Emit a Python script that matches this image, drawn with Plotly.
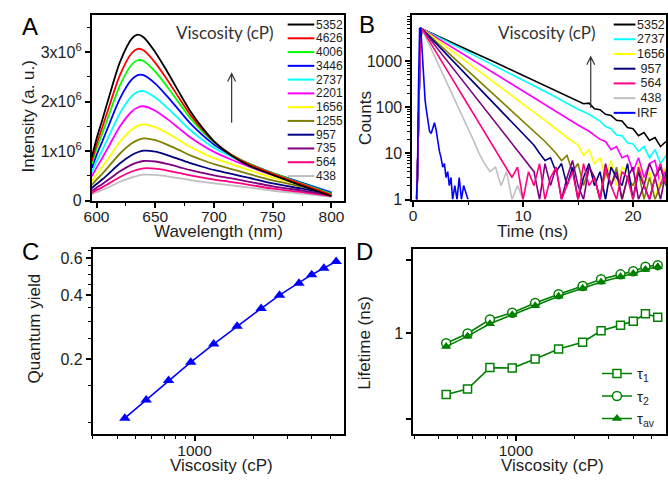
import plotly.graph_objects as go

W, H = 668, 484
def px(x): return x / W
def py(y): return 1 - y / H

FONT = 'Liberation Sans, Arial, sans-serif'
TXT = '#1e1e1e'

# ---------------- Panel A: emission spectra (intensity in 1e6 a.u.) ----------------
wavelength_nm = [596, 600, 605, 610, 620, 630, 635, 640, 650, 660, 670, 680, 690, 700, 715, 730, 750, 775, 800]
viscosity_A = [5352, 4626, 4006, 3446, 2737, 2201, 1656, 1255, 957, 735, 564, 438]
colors_A = ['#000000', '#FF0000', '#00FF00', '#0000FF', '#00FFFF', '#FF00FF',
            '#FFFF00', '#808000', '#000080', '#800080', '#FF0080', '#C0C0C0']
I_5352 = [0.881, 1.25, 1.641, 2.043, 2.801, 3.27, 3.35, 3.3, 2.998, 2.613, 2.201, 1.799, 1.474, 1.199, 0.905, 0.704, 0.519, 0.301, 0.09]
I_4626 = [0.805, 1.133, 1.486, 1.849, 2.541, 2.981, 3.065, 3.035, 2.783, 2.447, 2.083, 1.727, 1.438, 1.192, 0.924, 0.732, 0.544, 0.33, 0.119]
I_4006 = [0.743, 1.040, 1.362, 1.695, 2.333, 2.749, 2.835, 2.820, 2.604, 2.305, 1.980, 1.659, 1.398, 1.174, 0.929, 0.745, 0.555, 0.347, 0.138]
I_3446 = [0.663, 0.921, 1.203, 1.497, 2.066, 2.447, 2.535, 2.535, 2.364, 2.111, 1.833, 1.556, 1.330, 1.135, 0.918, 0.746, 0.558, 0.359, 0.157]
I_2737 = [0.573, 0.789, 1.027, 1.278, 1.770, 2.110, 2.196, 2.211, 2.084, 1.879, 1.651, 1.421, 1.232, 1.068, 0.883, 0.726, 0.546, 0.360, 0.169]
I_2201 = [0.490, 0.668, 0.868, 1.080, 1.501, 1.800, 1.881, 1.906, 1.815, 1.651, 1.465, 1.277, 1.121, 0.985, 0.827, 0.687, 0.518, 0.349, 0.172]
I_1656 = [0.392, 0.529, 0.685, 0.853, 1.189, 1.437, 1.51, 1.542, 1.485, 1.365, 1.226, 1.083, 0.964, 0.858, 0.733, 0.615, 0.465, 0.319, 0.164]
I_1255 = [0.317, 0.424, 0.547, 0.681, 0.953, 1.159, 1.223, 1.256, 1.221, 1.131, 1.025, 0.914, 0.821, 0.738, 0.638, 0.538, 0.408, 0.283, 0.15]
I_957 = [0.253, 0.336, 0.432, 0.538, 0.755, 0.923, 0.978, 1.009, 0.989, 0.922, 0.841, 0.757, 0.685, 0.62, 0.541, 0.459, 0.348, 0.243, 0.131]
I_735 = [0.2, 0.263, 0.339, 0.421, 0.593, 0.728, 0.774, 0.801, 0.791, 0.741, 0.68, 0.616, 0.561, 0.51, 0.449, 0.382, 0.29, 0.204, 0.112]
I_564 = [0.162, 0.213, 0.273, 0.34, 0.479, 0.59, 0.629, 0.653, 0.647, 0.609, 0.561, 0.511, 0.467, 0.426, 0.377, 0.321, 0.244, 0.173, 0.095]
I_438 = [0.13, 0.17, 0.217, 0.27, 0.382, 0.472, 0.503, 0.525, 0.522, 0.493, 0.456, 0.416, 0.382, 0.35, 0.31, 0.265, 0.201, 0.143, 0.08]
spectra = [I_5352, I_4626, I_4006, I_3446, I_2737, I_2201, I_1656, I_1255, I_957, I_735, I_564, I_438]
intensity_ticks = [0, 1, 2, 3]
intensity_ticktext = ['0', '1x10<sup>6</sup>', '2x10<sup>6</sup>', '3x10<sup>6</sup>']

# ---------------- Panel B: fluorescence decays ----------------
t_5352 = [0.35, 0.5, 0.65, 0.8, 2.5, 5, 7.5, 10, 12.5, 15, 15.5, 16, 16.5, 17, 17.5, 18, 18.5, 19, 19.5, 20, 20.5, 21, 21.5, 22, 22.5, 23]
c_5352 = [1, 60, 2000, 5000, 3200, 1720, 920, 490, 260, 135, 118, 122, 92, 88, 70, 66, 52, 50, 36, 34, 24, 28, 19, 22, 14, 18]
t_2737 = [0.35, 0.5, 0.65, 0.8, 2.5, 5, 7.5, 10, 12.5, 15, 16, 17, 17.5, 18, 18.5, 19, 19.5, 20, 20.5, 21, 21.5, 22, 22.5, 23]
c_2737 = [1, 60, 2000, 5000, 3100, 1550, 770, 385, 190, 90, 70, 50, 38, 34, 25, 24, 17, 16, 11, 14, 8, 12, 6, 9]
t_2201 = [0.35, 0.5, 0.65, 0.8, 2.5, 5, 7.5, 10, 12.5, 15, 16, 17, 17.5, 18, 18.5, 19, 19.5, 20, 20.5, 21, 21.5, 22, 22.5, 23]
c_2201 = [1, 60, 2000, 5000, 2800, 1210, 520, 225, 96, 41, 30, 20, 18, 12, 14, 8, 9, 4, 8, 3, 6, 7, 2, 5]
t_1656 = [0.35, 0.5, 0.65, 0.8, 2.5, 5, 7.5, 10, 12.5, 14, 15, 15.5, 16, 16.5, 17, 17.5, 18, 18.5, 19, 19.5, 20, 20.5, 21, 21.5, 22, 22.5, 23]
c_1656 = [1, 60, 2000, 5000, 2500, 910, 330, 117, 42, 22, 15, 9, 12, 6, 8, 3, 7, 2, 5, 4, 1, 6, 2, 4, 1, 3, 5]
t_1255 = [0.35, 0.5, 0.65, 0.8, 2, 4, 6, 8, 10, 12, 13, 13.5, 14, 14.5, 15, 15.5, 16, 16.5, 17, 17.5, 18, 18.5, 19, 19.5, 20, 20.5, 21, 21.5, 22, 22.5, 23]
c_1255 = [1, 60, 2000, 5000, 2740, 1000, 370, 135, 49, 18, 10, 7, 9, 4, 6, 2, 5, 3, 1, 4, 2, 5, 1, 3, 2, 4, 1, 3, 1, 2, 3]
t_957 = [0.35, 0.5, 0.65, 0.8, 2, 4, 6, 8, 10, 11, 11.5, 12, 12.5, 13, 13.5, 14, 14.5, 15, 15.5, 16, 16.5, 17, 17.5, 18, 18.5, 19, 19.5, 20, 20.5, 21, 21.5, 22, 22.5, 23]
c_957 = [1, 60, 2000, 5000, 2540, 810, 260, 85, 27, 15, 10, 7, 8, 4, 6, 2, 5, 1, 3, 6, 2, 4, 1, 5, 3, 2, 6, 1, 4, 2, 1, 3, 5, 2]
t_735 = [0.35, 0.5, 0.65, 0.8, 2, 3.5, 5, 6.5, 8, 9.5, 10, 10.5, 11, 11.5, 12, 12.5, 13, 13.5, 14, 14.5, 15, 15.5, 16, 16.5, 17, 17.5, 18, 18.5, 19, 19.5, 20, 20.5, 21, 21.5, 22, 22.5, 23]
c_735 = [1, 60, 2000, 5000, 2160, 750, 265, 93, 32, 11.5, 8, 5.6, 4, 1, 6, 2, 5, 1, 3, 7, 2, 1, 5, 3, 1, 6, 2, 4, 1, 3, 5, 1, 2, 6, 3, 1, 4]
t_564 = [0.35, 0.5, 0.65, 0.8, 1.5, 2.5, 3.5, 4.5, 5.5, 6.5, 7.5, 8, 8.5, 9, 9.5, 10, 10.5, 11, 11.5, 12, 12.5, 13, 13.5, 14, 14.5, 15, 15.5, 16, 16.5, 17, 17.5, 18, 18.5, 19, 19.5, 20, 20.5, 21, 21.5, 22, 22.5, 23]
c_564 = [1, 60, 2000, 5000, 2650, 1070, 430, 170, 70, 28, 11, 7, 4.6, 3, 5, 1, 4, 2, 6, 1, 3, 5, 1, 2, 4, 1, 6, 2, 3, 1, 5, 2, 1, 4, 3, 1, 5, 2, 1, 3, 6, 2]
t_438 = [0.35, 0.5, 0.65, 0.8, 1.5, 2.5, 3.5, 4.5, 5.5, 6, 6.5, 7, 7.5, 8, 8.5, 9, 9.5, 10]
c_438 = [1, 60, 2000, 5000, 2200, 660, 200, 62, 19, 10, 6, 4, 5, 2, 4, 1, 2, 1]
t_irf = [0.3, 0.4, 0.5, 0.6, 0.7, 0.8, 0.9, 1.0, 1.1, 1.2, 1.35, 1.5, 1.65, 1.8, 1.95, 2.1, 2.25, 2.4, 2.55, 2.7, 2.85, 3.0, 3.15, 3.3, 3.45, 3.6, 3.8, 4.0, 4.2, 4.4, 4.6, 5.0]
c_irf = [1, 3, 300, 5000, 5300, 1800, 600, 250, 140, 90, 50, 30, 27, 38, 46, 32, 18, 11, 8, 5, 6, 3, 4, 2, 3, 1, 2, 1, 3, 1, 2, 1]
decays = [  # (label, colour, t, counts)
    ('5352', '#000000', t_5352, c_5352),
    ('2737', '#00FFFF', t_2737, c_2737),
    ('2201', '#FF00FF', t_2201, c_2201),
    ('1656', '#FFFF00', t_1656, c_1656),
    ('1255', '#808000', t_1255, c_1255),
    ('957', '#000080', t_957, c_957),
    ('735', '#800080', t_735, c_735),
    ('438', '#C0C0C0', t_438, c_438),
    ('564', '#FF0080', t_564, c_564),
    ('IRF', '#0000FF', t_irf, c_irf),
]
legend_B = ['5352', '2737', '1656', '957', '564', '438', 'IRF']

# ---------------- Panels C and D ----------------
viscosity = [438, 564, 735, 957, 1255, 1656, 2201, 2737, 3446, 4006, 4626, 5352]
quantum_yield = [0.105, 0.128, 0.158, 0.193, 0.235, 0.285, 0.346, 0.40, 0.456, 0.50, 0.537, 0.577]
tau1 = [0.316, 0.35, 0.525, 0.52, 0.617, 0.747, 0.846, 1.05, 1.17, 1.26, 1.45, 1.36]
tau2 = [0.83, 1.0, 1.30, 1.48, 1.78, 2.10, 2.45, 2.78, 3.05, 3.24, 3.52, 3.63]
tau_av = [0.78, 0.95, 1.20, 1.42, 1.69, 2.02, 2.35, 2.64, 2.92, 3.10, 3.34, 3.52]

fig = go.Figure()

# A
for v, c, ys in reversed(list(zip(viscosity_A, colors_A, spectra))):
    fig.add_trace(go.Scatter(x=wavelength_nm, y=ys, mode='lines', name=str(v),
                             line=dict(color=c, width=1.8, shape='spline', smoothing=0.8),
                             showlegend=False, xaxis='x', yaxis='y'))
# B
for lab, c, t, cnt in decays:
    fig.add_trace(go.Scatter(x=t, y=cnt, mode='lines', name=lab, line=dict(color=c, width=1.6),
                             showlegend=False, xaxis='x2', yaxis='y2'))
# C
fig.add_trace(go.Scatter(x=viscosity, y=quantum_yield, mode='lines+markers',
                         line=dict(color='#0000FF', width=1.6),
                         marker=dict(symbol='triangle-up', size=10, color='#0000FF'),
                         showlegend=False, xaxis='x3', yaxis='y3'))
# D
G = '#008000'
fig.add_trace(go.Scatter(x=viscosity, y=tau1, mode='lines+markers', name='τ<sub>1</sub>',
                         line=dict(color=G, width=1.6),
                         marker=dict(symbol='square', size=8, color='white', line=dict(color=G, width=1.5)),
                         xaxis='x4', yaxis='y4'))
fig.add_trace(go.Scatter(x=viscosity, y=tau2, mode='lines+markers', name='τ<sub>2</sub>',
                         line=dict(color=G, width=1.6),
                         marker=dict(symbol='circle', size=9, color='white', line=dict(color=G, width=1.5)),
                         xaxis='x4', yaxis='y4'))
fig.add_trace(go.Scatter(x=viscosity, y=tau_av, mode='lines+markers', name='τ<sub>av</sub>',
                         line=dict(color=G, width=1.6),
                         marker=dict(symbol='triangle-up', size=9, color=G),
                         xaxis='x4', yaxis='y4'))

minor = dict(ticks='outside', ticklen=3, tickwidth=1, tickcolor='black', showgrid=False)
def ax(**kw):
    d = dict(showline=True, linewidth=2, linecolor='black', mirror=True, ticks='outside',
             ticklen=5, tickwidth=1.5, tickcolor='black', showgrid=False, zeroline=False,
             tickfont=dict(family=FONT, size=16, color=TXT), fixedrange=True)
    d.update(kw)
    return d

XTF = dict(family=FONT, size=15.5, color=TXT)
fig.update_layout(
    width=W, height=H, margin=dict(l=0, r=0, t=0, b=0),
    paper_bgcolor='white', plot_bgcolor='white',
    font=dict(family=FONT, color=TXT),
    xaxis=ax(domain=[px(85), px(341)], range=[596, 811], tickvals=[600, 650, 700, 750, 800],
             minor=dict(tickvals=[625, 675, 725, 775], **minor), anchor='y', ticklabelstandoff=-4, tickfont=XTF),
    yaxis=ax(domain=[py(204.5), py(15.7)], range=[0, 3.74], tickvals=intensity_ticks,
             ticktext=intensity_ticktext, minor=dict(tickvals=[0.5, 1.5, 2.5, 3.5], **minor), anchor='x'),
    xaxis2=ax(domain=[px(410), px(667)], range=[-0.05, 23], tickvals=[0, 10, 20],
              minor=dict(tickvals=[5, 15], **minor), anchor='y2', ticklabelstandoff=-4, tickfont=XTF),
    yaxis2=ax(domain=[py(203.3), py(15)], type='log', range=[0, 4], tickvals=[1, 10, 100, 1000],
              minor=dict(tickvals=[2, 3, 4, 5, 6, 7, 8, 9, 20, 30, 40, 50, 60, 70, 80, 90,
                                   200, 300, 400, 500, 600, 700, 800, 900, 2000, 3000, 4000, 5000, 6000, 7000, 8000, 9000],
                         **minor), anchor='x2'),
    xaxis3=ax(domain=[px(86), px(341)], type='log', range=[2.477, 3.771], tickvals=[1000], ticktext=['1000'],
              minor=dict(tickvals=[300, 400, 500, 600, 700, 800, 900, 2000, 3000, 4000, 5000], **minor),
              anchor='y3', ticklabelstandoff=-4, tickfont=XTF),
    yaxis3=ax(domain=[py(442.3), py(254)], type='log', range=[-1.054, -0.181], tickvals=[0.2, 0.4, 0.6],
              ticktext=['0.2', '0.4', '0.6'],
              minor=dict(tickvals=[0.1, 0.15, 0.25, 0.3, 0.35, 0.45, 0.5, 0.55, 0.65], **minor), anchor='x3'),
    xaxis4=ax(domain=[px(411), px(667)], type='log', range=[2.4735, 3.771], tickvals=[1000], ticktext=['1000'],
              minor=dict(tickvals=[300, 400, 500, 600, 700, 800, 900, 2000, 3000, 4000, 5000], **minor),
              anchor='y4', ticklabelstandoff=-4, tickfont=XTF),
    yaxis4=ax(domain=[py(442.3), py(254)], type='log', range=[-0.825, 0.69], tickvals=[1],
              ticktext=['1'], minor=dict(tickvals=[0.2, 4], ticks='outside', ticklen=5, tickwidth=1.5,
                                         tickcolor='black', showgrid=False), anchor='x4'),
    showlegend=True,
    legend=dict(x=px(597), y=py(364), xanchor='left', yanchor='top', bgcolor='rgba(0,0,0,0)',
                font=dict(family=FONT, size=15, color=TXT), itemwidth=30, tracegroupgap=0),
)

ann = []
shapes = []
def text(x, y, s, size=17, angle=0, xanchor='center', family=FONT, color=TXT):
    ann.append(dict(x=px(x), y=py(y), xref='paper', yref='paper', text=s, showarrow=False,
                    xanchor=xanchor, yanchor='middle', textangle=angle, borderpad=0,
                    font=dict(family=family, size=size, color=color)))

# panel letters
text(22, 27, 'A', size=24, color='black')
text(364, 25, 'B', size=24, color='black')
text(23, 256, 'C', size=24, color='black')
text(361, 256, 'D', size=24, color='black')
# axis titles
text(213, 236, 'Wavelength (nm)')
text(21, 119, 'Intensity (a. u.)', angle=-90)
text(532, 236, 'Time (ns)')
text(363, 120, 'Counts', angle=-90)
text(216, 474, 'Viscosity (cP)')
text(27, 335, 'Quantum yield', angle=-90)
text(552, 474, 'Viscosity (cP)')
text(361, 349, 'Lifetime (ns)', angle=-90)
# in-plot labels
text(220, 33, 'Viscosity (cP)', size=17, family='Lato, Open Sans, sans-serif', color='#333')
text(546, 33, 'Viscosity (cP)', size=17, family='Lato, Open Sans, sans-serif', color='#333')

def arrow(x, y0, y1):
    shapes.append(dict(type='path', xref='paper', yref='paper', line=dict(color='#333', width=1.2),
                       path='M %f,%f L %f,%f M %f,%f L %f,%f L %f,%f' % (
                           px(x), py(y0), px(x), py(y1),
                           px(x - 4), py(y1 + 8), px(x), py(y1), px(x + 4), py(y1 + 8))))
arrow(226.7, 125, 75)
arrow(590.7, 110, 58)

# manual legend A
for i, (v, c) in enumerate(zip(viscosity_A, colors_A)):
    y = 25 + 14.03 * i
    shapes.append(dict(type='line', xref='paper', yref='paper', x0=px(283.5), x1=px(310.5),
                       y0=py(y), y1=py(y), line=dict(color=c, width=2)))
    text(311, y, str(v), size=12, xanchor='left')
# manual legend B
leg_col = {lab: c for lab, c, _, _ in decays}
for i, lab in enumerate(legend_B):
    y = 25 + 15 * i
    shapes.append(dict(type='line', xref='paper', yref='paper', x0=px(614), x1=px(636),
                       y0=py(y), y1=py(y), line=dict(color=leg_col[lab], width=2)))
    label = lab if len(lab) != 3 or lab == 'IRF' else '\u00a0' + lab
    text(636.5, y, label, size=12.5, xanchor='left')

fig.update_layout(annotations=ann, shapes=shapes)
fig.write_html("out.html", config={'displayModeBar': False},
               post_script="document.body.style.margin='0';document.body.style.overflow='hidden';")
